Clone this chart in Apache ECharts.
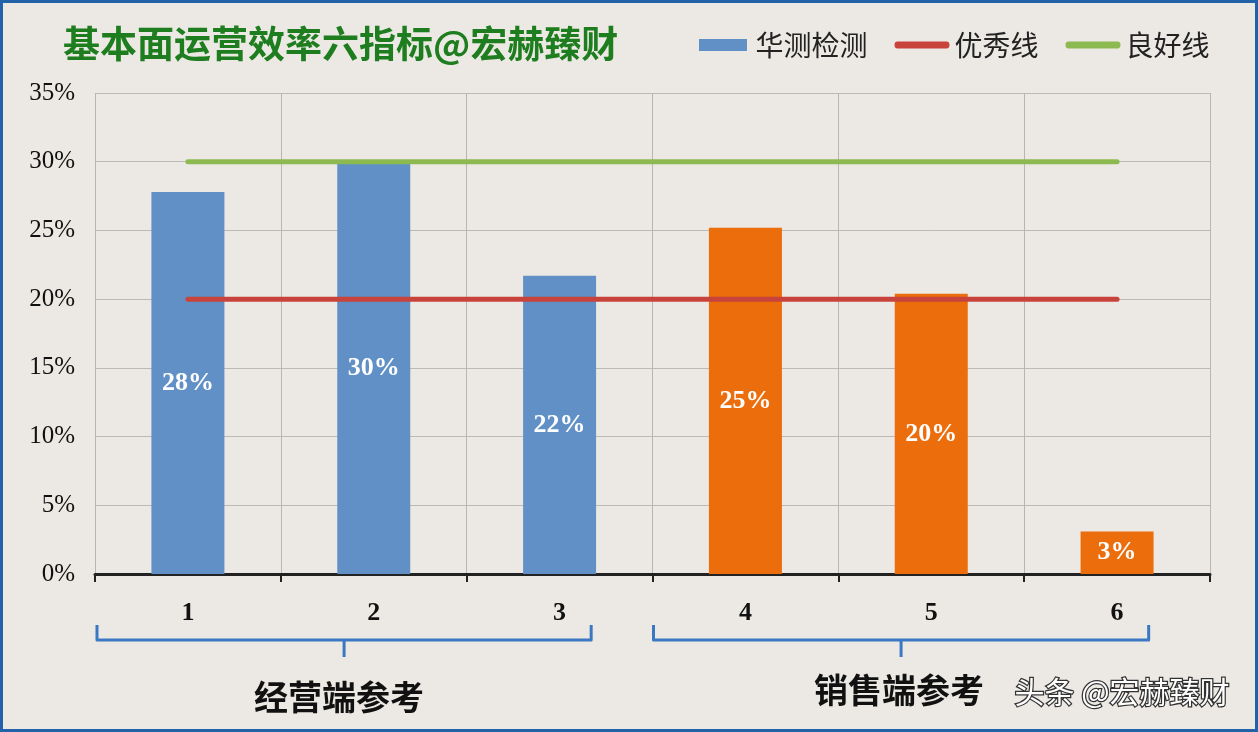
<!DOCTYPE html>
<html>
<head>
<meta charset="utf-8">
<script src="https://cdn.jsdelivr.net/npm/echarts@6/dist/echarts.min.js"></script>
<style>
html,body{margin:0;padding:0;background:#ECE9E4;}
#main{width:1258px;height:732px;}
</style>
</head>
<body>
<div id="main"></div>
<script>
var titleText = '基本面运营效率六指标@宏赫臻财';
var categories = ['1', '2', '3', '4', '5', '6'];
var barName = '华测检测';
var barValues = [27.8, 29.9, 21.7, 25.2, 20.4, 3.1];
var barGroups = ['op', 'op', 'op', 'sale', 'sale', 'sale'];
var excellentName = '优秀线';
var excellentValues = [20, 20, 20, 20, 20, 20];
var goodName = '良好线';
var goodValues = [30, 30, 30, 30, 30, 30];
var groupLabels = ['经营端参考', '销售端参考'];
var watermark = '头条 @宏赫臻财';
var yTicks = [0, 5, 10, 15, 20, 25, 30, 35];

var BLUE = '#6190C6', ORANGE = '#EC6D0B', RED = '#C8433C', GREEN = '#8CBA50';
var CJK = '"Noto Sans CJK SC", "Noto Sans", sans-serif';
var SERIF = '"Liberation Serif", "DejaVu Serif", serif';

var chart = echarts.init(document.getElementById('main'), null, {renderer: 'canvas'});

var option = {
  backgroundColor: '#ECE9E4',
  animation: false,
  title: {
    text: titleText,
    left: 58, top: 20,
    textStyle: {fontFamily: CJK, fontSize: 37, fontWeight: 'bold', color: '#1E7D1E'}
  },
  legend: {
    left: 694, top: 26,
    itemGap: 27,
    itemWidth: 55, itemHeight: 12,
    textStyle: {fontFamily: CJK, fontSize: 28, color: '#222'},
    data: [
      {name: barName, icon: 'path://M0,0 L48,0 L48,12 L0,12 Z'},
      {name: excellentName, icon: 'path://M3,0 L53,0 Q56,0 56,3.5 Q56,7 53,7 L3,7 Q0,7 0,3.5 Q0,0 3,0 Z'},
      {name: goodName, icon: 'path://M3,0 L53,0 Q56,0 56,3.5 Q56,7 53,7 L3,7 Q0,7 0,3.5 Q0,0 3,0 Z'}
    ]
  },
  grid: {left: 95, right: 48, top: 93, bottom: 158, containLabel: false},
  xAxis: {
    type: 'category',
    data: categories,
    boundaryGap: true,
    axisLine: {show: true, lineStyle: {color: '#222', width: 3}},
    axisTick: {show: true, length: 8, lineStyle: {color: '#222', width: 2}},
    splitLine: {show: true, lineStyle: {color: '#B9B6B1', width: 1}},
    axisLabel: {margin: 26, fontFamily: SERIF, fontWeight: 'bold', fontSize: 26, color: '#111'}
  },
  yAxis: {
    type: 'value',
    min: 0, max: 35, interval: 5,
    axisLine: {show: false},
    axisTick: {show: false},
    splitLine: {show: true, lineStyle: {color: '#BDBAB5', width: 1}},
    axisLabel: {
      margin: 20, fontFamily: SERIF, fontSize: 25, color: '#111',
      formatter: function (v) { return yTicks.indexOf(v) >= 0 ? v + '%' : ''; }
    }
  },
  series: [
    {
      name: barName,
      type: 'bar',
      barWidth: 73,
      itemStyle: {color: BLUE},
      data: barValues.map(function (v, i) {
        return {value: v, itemStyle: {color: barGroups[i] === 'op' ? BLUE : ORANGE}};
      }),
      label: {
        show: true, position: 'inside',
        fontFamily: SERIF, fontWeight: 'bold', fontSize: 26, color: '#fff',
        formatter: function (p) { return Math.round(p.value) + '%'; }
      },
      z: 2
    },
    {
      name: excellentName,
      type: 'line',
      data: excellentValues,
      symbol: 'none',
      lineStyle: {color: RED, width: 5, cap: 'round'},
      itemStyle: {color: RED},
      z: 3
    },
    {
      name: goodName,
      type: 'line',
      data: goodValues,
      symbol: 'none',
      lineStyle: {color: GREEN, width: 5, cap: 'round'},
      itemStyle: {color: GREEN},
      z: 3
    }
  ]
};
chart.setOption(option);

// braces and group labels, positioned from the category axis
function px(cat) { return chart.convertToPixel({xAxisIndex: 0}, cat); }
var step = px('2') - px('1');
var braceTop = 625, braceY = 640, braceTip = 657;
function brace(x1, x2) {
  return {
    type: 'polyline',
    shape: {points: [[x1, braceTop], [x1, braceY], [x2, braceY], [x2, braceTop]]},
    style: {stroke: '#3B78C3', lineWidth: 3, fill: null, lineJoin: 'round'}
  };
}
var b1x1 = px('1') - step / 2 + 2, b1x2 = px('3') + step * 0.17;
var b2x1 = px('4') - step / 2 + 1, b2x2 = px('6') + step * 0.17;
var b1c = (b1x1 + b1x2) / 2, b2c = (b2x1 + b2x2) / 2;

chart.setOption({
  graphic: [
    brace(b1x1, b1x2),
    {type: 'line', shape: {x1: b1c, y1: braceY, x2: b1c, y2: braceTip}, style: {stroke: '#3B78C3', lineWidth: 3}},
    brace(b2x1, b2x2),
    {type: 'line', shape: {x1: b2c, y1: braceY, x2: b2c, y2: braceTip}, style: {stroke: '#3B78C3', lineWidth: 3}},
    {type: 'text', x: b1c - 5, y: 697, style: {text: groupLabels[0], font: 'bold 34px ' + CJK, fill: '#111', textAlign: 'center', textVerticalAlign: 'middle'}},
    {type: 'text', x: b2c - 2, y: 690, style: {text: groupLabels[1], font: 'bold 34px ' + CJK, fill: '#111', textAlign: 'center', textVerticalAlign: 'middle'}},
    {type: 'text', x: 1122, y: 692, style: {text: watermark, font: '30px ' + CJK, fill: '#fff', stroke: '#333', lineWidth: 2.5, textAlign: 'center', textVerticalAlign: 'middle'}, z: 10},
    {type: 'rect', shape: {x: 1.5, y: 1.5, width: 1255, height: 729}, style: {stroke: '#2262A8', lineWidth: 3, fill: null}, z: 20}
  ]
});
</script>
</body>
</html>
